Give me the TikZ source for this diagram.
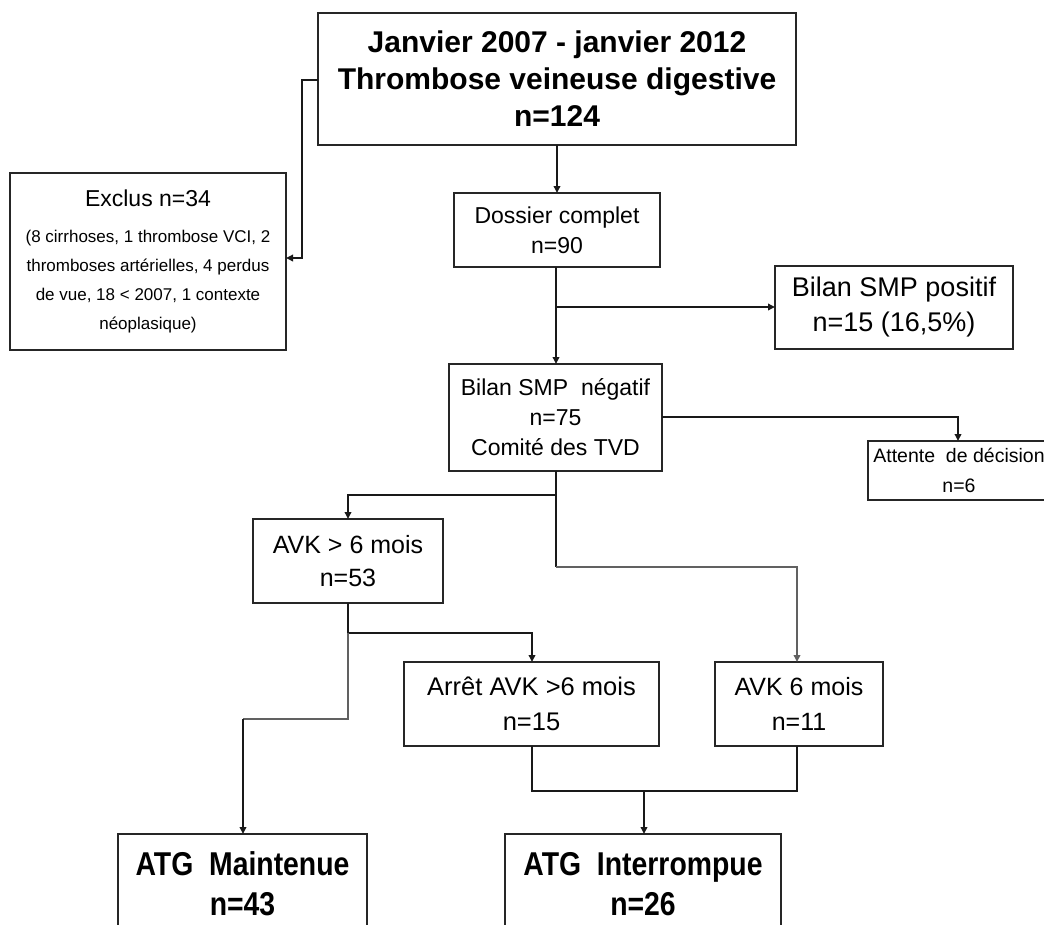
\documentclass[tikz,border=0pt]{standalone}
\usepackage{fontspec}
\setmainfont{Liberation Sans}
\newfontfamily\atgfont[FakeStretch=0.86]{Liberation Sans}
\usetikzlibrary{arrows.meta}
\tikzset{
  box/.style={draw=black!85, line width=2.6pt, align=center, inner sep=0pt, outer sep=0pt, fill=white},
  conn/.style={draw=black!90, line width=2pt},
  connG/.style={draw=black!62, line width=2.8pt},
  arr/.style={conn, -{Triangle[length=7pt,width=6.5pt]}},
  arrG/.style={connG, -{Triangle[length=7pt,width=6.5pt]}}
}
\begin{document}
\begin{tikzpicture}[x=1pt,y=-1pt]
\useasboundingbox (0,0) rectangle (1044,924);
\clip (0,0) rectangle (1044,924);
\fill[white] (0,0) rectangle (1044,924);

% nodes
\node[box, minimum width=478pt, minimum height=132pt,
      font=\fontsize{30}{37}\selectfont\bfseries] (top) at (557,79)
  {Janvier 2007 - janvier 2012\\Thrombose veineuse digestive\\n=124};

\node[box, minimum width=276pt, minimum height=177pt,
      font=\fontsize{17}{29}\selectfont] (excl) at (148,261.5)
  {{\fontsize{23}{29}\selectfont Exclus n=34}\\[7pt]
   (8 cirrhoses, 1 thrombose VCI, 2\\
   thromboses artérielles, 4 perdus\\
   de vue, 18 < 2007, 1 contexte\\
   néoplasique)};

\node[box, minimum width=206pt, minimum height=74pt,
      font=\fontsize{23}{30}\selectfont] (doss) at (557,230)
  {Dossier complet\\n=90};

\node[box, minimum width=238pt, minimum height=83pt,
      font=\fontsize{27}{35}\selectfont] (pos) at (894,307.5)
  {Bilan\ SMP positif\\n=15 (16,5\%)};

\node[box, minimum width=213pt, minimum height=107pt,
      font=\fontsize{23}{30}\selectfont] (neg) at (555.5,417.5)
  {Bilan SMP\ \ négatif\\n=75\\Comité des TVD};

\node[box, minimum width=182pt, minimum height=59pt,
      font=\fontsize{19.5}{30}\selectfont] (att) at (959,470.5)
  {Attente\ \ de décision\\n=6};

\node[box, minimum width=190pt, minimum height=84pt,
      font=\fontsize{25}{33}\selectfont] (avk) at (348,561)
  {AVK > 6 mois\\n=53};

\node[box, minimum width=255pt, minimum height=84pt,
      font=\fontsize{25.5}{35}\selectfont] (arret) at (531.5,704)
  {Arrêt AVK >6 mois\\n=15};

\node[box, minimum width=168pt, minimum height=84pt,
      font=\fontsize{25}{35}\selectfont] (avksix) at (799,704)
  {AVK 6 mois\\n=11};

\node[box, minimum width=249pt, minimum height=100pt,
      font=\atgfont\bfseries\fontsize{33}{40}\selectfont] (maint) at (242.5,884)
  {ATG\ \ Maintenue\\n=43};

\node[box, minimum width=276pt, minimum height=100pt,
      font=\atgfont\bfseries\fontsize{33}{40}\selectfont] (interr) at (643,884)
  {ATG\ \ Interrompue\\n=26};

% junction coordinates
\coordinate (jx) at (302,258);
\coordinate (jp) at (556,307);
\coordinate (ja) at (958,417);
\coordinate (jl) at (348,495);
\coordinate (jr) at (797,567);
\coordinate (jb) at (532,633);
\coordinate (jm) at (243,719);
\coordinate (jc) at (644,791);

% connectors
\draw[arr] (top.west |- 0,80) -| (jx) -- (jx -| excl.east);
\draw[arr] (top.south -| 557,0) -- (doss.north -| 557,0);
\draw[arr] (doss.south -| 556,0) -- (neg.north -| 556,0);
\draw[arr] (jp) -- (jp -| pos.west);
\draw[arr] (neg.east |- ja) -- (ja) -- (ja |- att.north);
\draw[arr] (neg.south -| 556,0) -- (556,495) -- (jl) -- (jl |- avk.north);
\draw[conn] (neg.south -| 556,0) -- (556,567);
\draw[arrG] (556,567) -- (jr) -- (jr |- avksix.north);
\draw[arr] (avk.south -| 348,0) -- (348,633) -- (jb) -- (jb |- arret.north);
\draw[connG] (348,633) -- (348,719) -- (jm);
\draw[arr] (jm) -- (jm |- maint.north);
\draw[conn] (arret.south -| 532,0) -- (532,791) -- (797,791) -- (avksix.south -| 797,0);
\draw[arr] (jc) -- (jc |- interr.north);
\end{tikzpicture}
\end{document}
